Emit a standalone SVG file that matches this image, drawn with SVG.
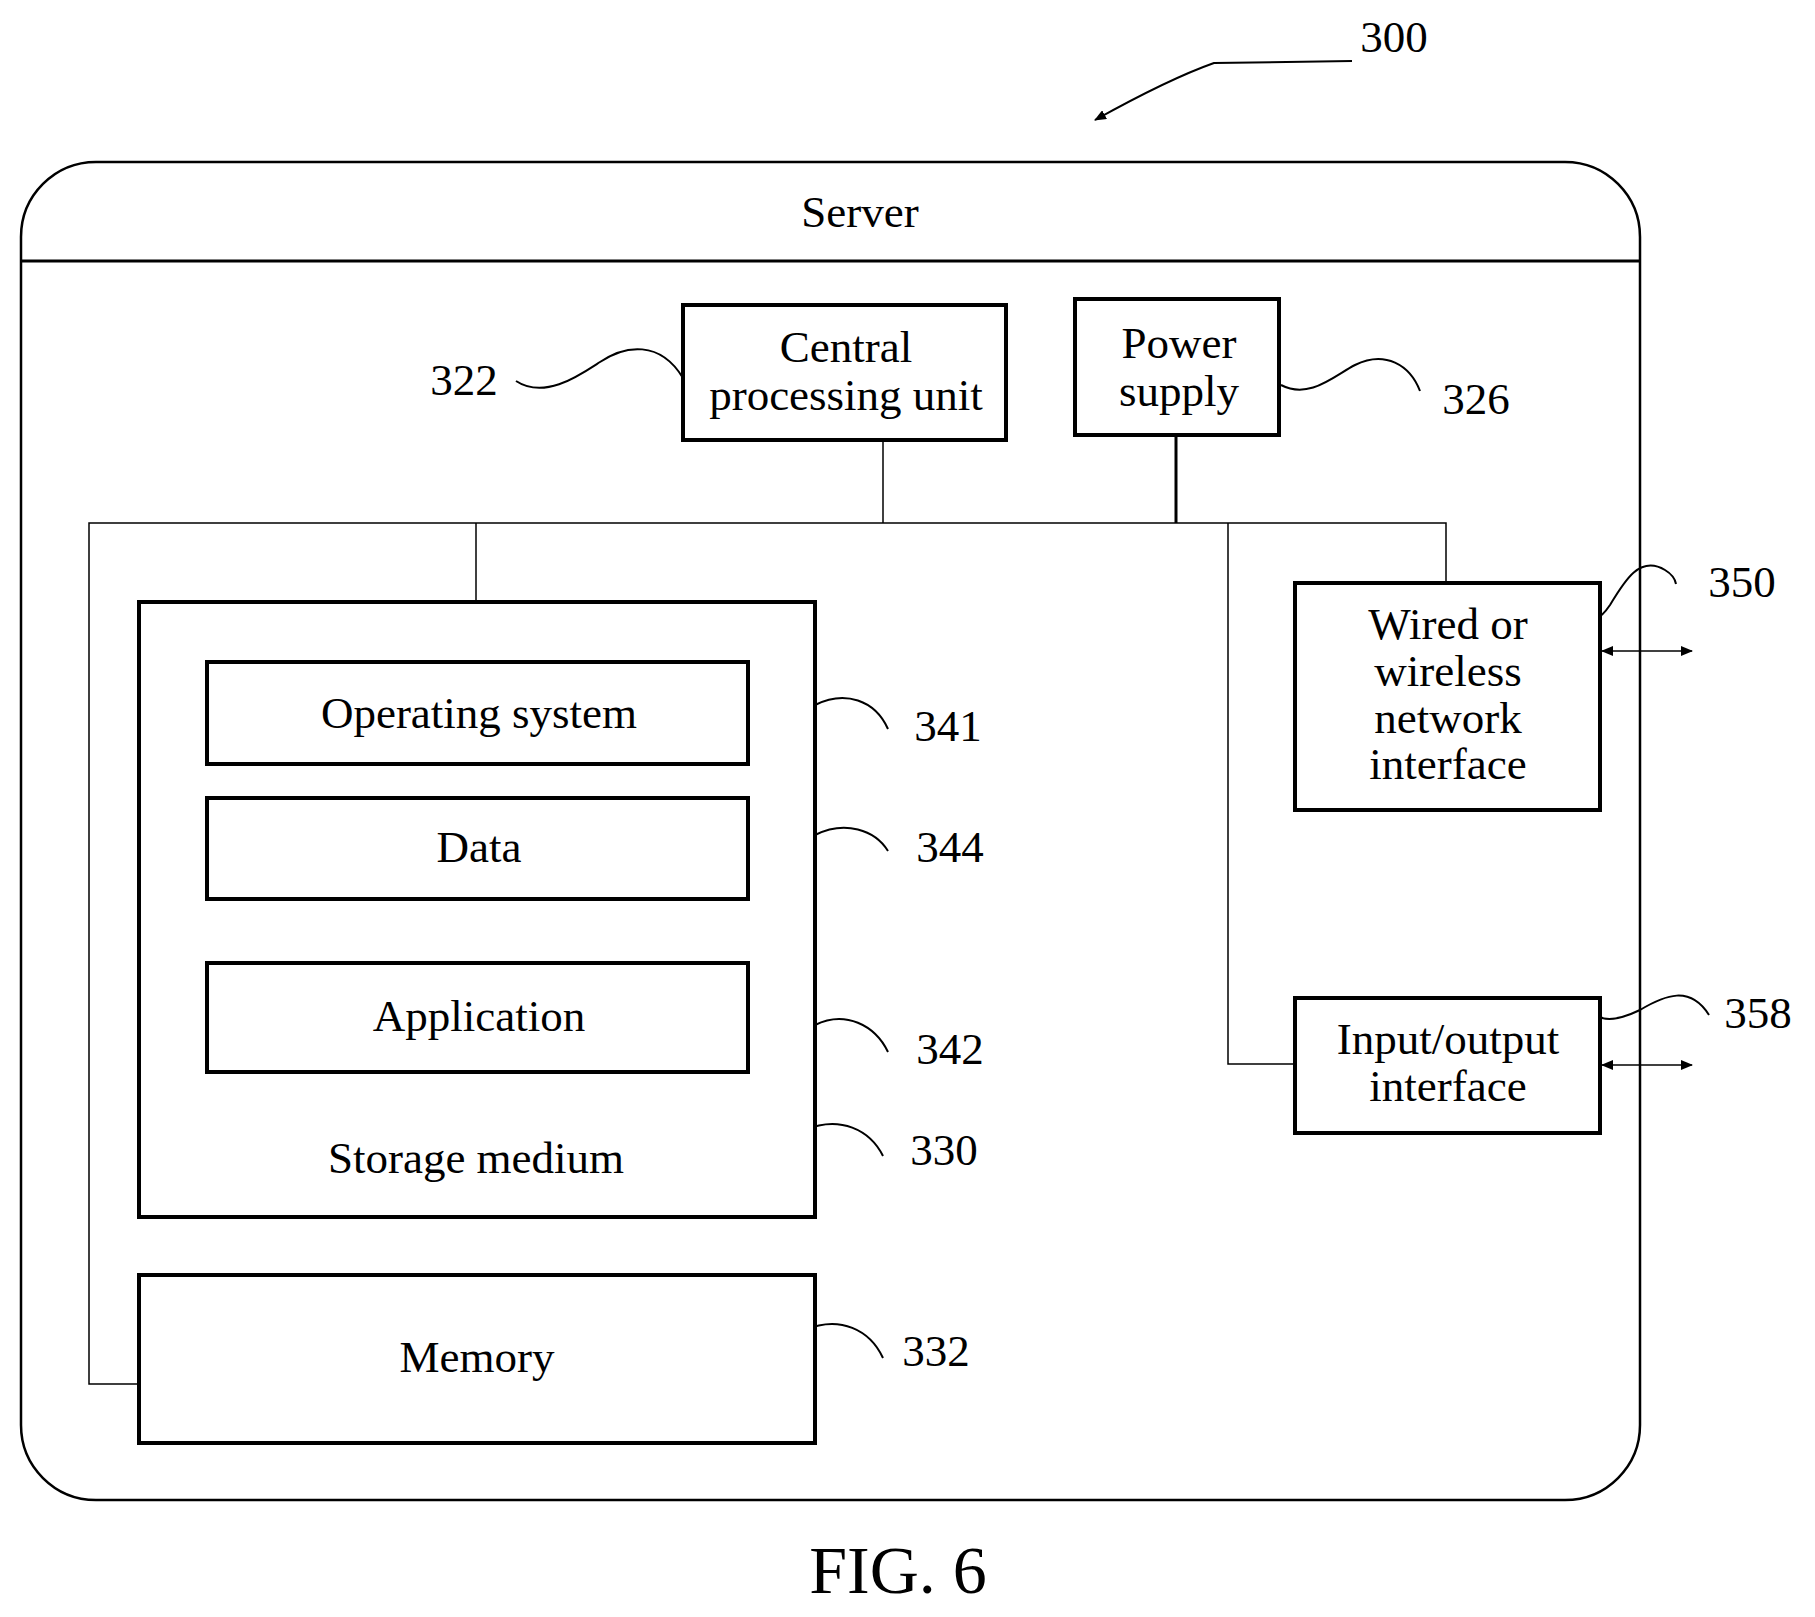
<svg xmlns="http://www.w3.org/2000/svg" width="1815" height="1617" viewBox="0 0 1815 1617">
<style>
text{font-family:"Liberation Serif","Times New Roman",serif;fill:#000;text-anchor:middle;font-size:45px}
.box{fill:#fff;stroke:#000;stroke-width:4}
.ln{fill:none;stroke:#000;stroke-width:1.5}
.sq{fill:none;stroke:#000;stroke-width:2}
</style>
<defs>
<marker id="ah" markerWidth="12" markerHeight="10" refX="11" refY="5" orient="auto-start-reverse" markerUnits="userSpaceOnUse" viewBox="0 0 12 10"><path d="M0,0 L12,5 L0,10 Z" fill="#000"/></marker>
</defs>
<rect width="1815" height="1617" fill="#fff"/>
<g id="server">
<rect x="21" y="162" width="1619" height="1338" rx="75" ry="75" fill="none" stroke="#000" stroke-width="2.5"/>
<line x1="21" y1="261" x2="1640" y2="261" stroke="#000" stroke-width="3"/>
<text x="860" y="227">Server</text>
</g>
<g id="connectors">
<line class="ln" x1="883" y1="440" x2="883" y2="523"/>
<line x1="1176" y1="435" x2="1176" y2="523" stroke="#000" stroke-width="3"/>
<polyline class="ln" points="139,1384 89,1384 89,523 1446,523 1446,583"/>
<line class="ln" x1="476" y1="523" x2="476" y2="602"/>
<polyline class="ln" points="1228,523 1228,1064 1295,1064"/>
<line class="ln" x1="1602" y1="651" x2="1692" y2="651" marker-start="url(#ah)" marker-end="url(#ah)"/>
<line class="ln" x1="1602" y1="1065" x2="1692" y2="1065" marker-start="url(#ah)" marker-end="url(#ah)"/>
<path class="sq" d="M1352,61 L1214,63 C1180,75 1140,95 1095,120" marker-end="url(#ah)"/>
<path class="sq" d="M516,381 C545,400 580,375 600,362 C625,345 660,340 683,378"/>
<path class="sq" d="M1281,385 C1310,400 1335,375 1355,365 C1385,350 1410,365 1420,391"/>
<path class="sq" d="M751,721 C780,735 800,715 815,705 C845,690 875,700 888,729"/>
<path class="sq" d="M751,855 C780,868 800,845 815,835 C845,820 875,830 888,851"/>
<path class="sq" d="M751,1040 C780,1055 800,1035 815,1025 C845,1010 875,1025 888,1052"/>
<path class="sq" d="M714,1139 C745,1160 780,1140 805,1130 C840,1115 870,1130 883,1156"/>
<path class="sq" d="M714,1339 C745,1360 780,1340 805,1330 C840,1315 870,1330 883,1358"/>
<path class="sq" d="M1576,618 C1590,625 1600,620 1610,605 C1625,580 1640,555 1665,570 C1670,573 1675,578 1676,584"/>
<path class="sq" d="M1590,1010 C1600,1022 1615,1022 1640,1010 C1665,995 1690,985 1709,1015"/>
</g>
<g id="cpu"><rect class="box" x="683" y="305" width="323" height="135"/><text x="846" y="362">Central</text><text x="846" y="410">processing unit</text></g>
<g id="power"><rect class="box" x="1075" y="299" width="204" height="136"/><text x="1179" y="358">Power</text><text x="1179" y="406">supply</text></g>
<g id="storage"><rect class="box" x="139" y="602" width="676" height="615"/><text x="476" y="1173">Storage medium</text></g>
<g id="os"><rect class="box" x="207" y="662" width="541" height="102"/><text x="479" y="728">Operating system</text></g>
<g id="data"><rect class="box" x="207" y="798" width="541" height="101"/><text x="479" y="862">Data</text></g>
<g id="app"><rect class="box" x="207" y="963" width="541" height="109"/><text x="479" y="1031">Application</text></g>
<g id="memory"><rect class="box" x="139" y="1275" width="676" height="168"/><text x="477" y="1372">Memory</text></g>
<g id="net"><rect class="box" x="1295" y="583" width="305" height="227"/><text x="1448" y="639">Wired or</text><text x="1448" y="686">wireless</text><text x="1448" y="733">network</text><text x="1448" y="779">interface</text></g>
<g id="io"><rect class="box" x="1295" y="998" width="305" height="135"/><text x="1448" y="1054">Input/output</text><text x="1448" y="1101">interface</text></g>
<g id="labels">
<text x="1394" y="52">300</text>
<text x="464" y="395">322</text>
<text x="1476" y="414">326</text>
<text x="1742" y="597">350</text>
<text x="1758" y="1028">358</text>
<text x="948" y="741">341</text>
<text x="950" y="862">344</text>
<text x="950" y="1064">342</text>
<text x="944" y="1165">330</text>
<text x="936" y="1366">332</text>
<text x="898" y="1593" style="font-size:68px">FIG. 6</text>
</g>
</svg>
